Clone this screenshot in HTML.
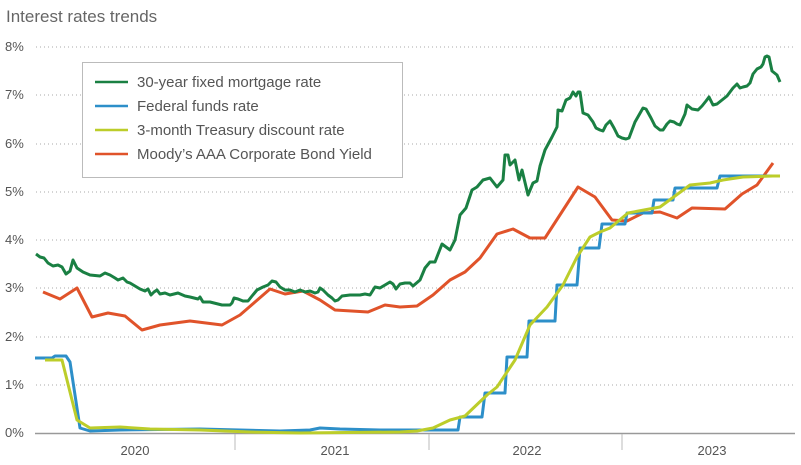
<!DOCTYPE html>
<html><head><meta charset="utf-8"><style>
body{margin:0;background:#fff;}
svg{display:block;font-family:"Liberation Sans",sans-serif;}
</style></head><body>
<svg width="801" height="465" viewBox="0 0 801 465">
<text x="6" y="22" font-size="17" fill="#666">Interest rates trends</text>
<g font-size="13" fill="#555">
<text x="5" y="51">8%</text><text x="5" y="99">7%</text><text x="5" y="148">6%</text><text x="5" y="196">5%</text>
<text x="5" y="244">4%</text><text x="5" y="292">3%</text><text x="5" y="341">2%</text><text x="5" y="389">1%</text><text x="5" y="437">0%</text>
</g>
<g stroke="#aaa" stroke-width="1" stroke-dasharray="1,3">
<line x1="36" x2="795" y1="47" y2="47"/><line x1="36" x2="795" y1="95" y2="95"/><line x1="36" x2="795" y1="144" y2="144"/>
<line x1="36" x2="795" y1="192" y2="192"/><line x1="36" x2="795" y1="240" y2="240"/><line x1="36" x2="795" y1="288" y2="288"/>
<line x1="36" x2="795" y1="337" y2="337"/><line x1="36" x2="795" y1="385" y2="385"/>
</g>
<line x1="35" x2="795" y1="433.5" y2="433.5" stroke="#999" stroke-width="1.5"/>
<g stroke="#bbb"><line x1="235" x2="235" y1="434" y2="450"/><line x1="429" x2="429" y1="434" y2="450"/><line x1="622" x2="622" y1="434" y2="450"/></g>
<g font-size="13" fill="#555" text-anchor="middle">
<text x="135" y="455">2020</text><text x="335" y="455">2021</text><text x="527" y="455">2022</text><text x="712" y="455">2023</text>
</g>
<g fill="none" stroke-width="3" stroke-linejoin="round">
<polyline stroke="#e0532a" points="43,292 60,299 77,288 92,317 108,313 125,316 142,330 160,325 190,321 222,325 240,315 255,302 270,289 285,294 303,291 320,300 335,310 368,312 385,305 400,307 417,306 433,295 450,280 465,272 480,258 497,234 513,229 530,238 545,238 578,187 595,197 612,220 627,221 643,213 660,212 677,218 692,208 725,209 742,194 757,185 773,163"/>
<polyline stroke="#2d8fc9" points="35,358 52,358 55,356 66,356 70,362 75,395 80,428 90,431 120,430 200,429 280,431 310,430 320,428 340,429 380,430 420,430 458,430 460,417 482,417 485,393 505,393 507,357 527,357 529,321 555,321 557,285 577,285 580,248 599,248 602,224 625,224 627,213 652,213 654,200 673,200 675,188 717,188 720,176 780,176"/>
<polyline stroke="#bccd2a" points="45,360 62,360 77,420 90,428 120,427 150,429 200,430 250,432 300,433 400,432 417,431 433,428 450,420 465,416 487,395 497,387 515,360 530,325 547,307 563,285 577,257 590,237 600,232 610,228 628,213 660,207 690,185 710,183 723,180 743,177 773,176 780,176"/>
<polyline stroke="#1a8043" points="36,254 40,257 44,258 48,263 53,266 58,265 62,267 66,274 70,271 73,260 77,268 83,272 90,275 100,276 105,273 110,275 115,278 118,280 123,278 127,282 130,283 140,289 145,291 148,289 151,295 154,292 157,290 160,294 165,293 170,295 178,293 185,296 190,297 198,299 200,297 203,302 210,302 218,304 222,305 230,305 232,303 234,298 238,299 243,301 248,301 252,296 257,290 263,287 268,285 272,281 276,282 280,287 285,290 290,290 295,292 300,290 305,292 310,291 315,293 318,292 320,288 323,290 328,295 332,298 335,301 338,300 342,296 350,295 360,295 365,294 370,295 375,287 380,288 385,285 390,282 393,284 396,289 400,284 405,283 410,283 413,286 420,280 425,268 430,262 435,262 442,244 450,250 455,240 460,215 466,208 472,190 477,187 483,180 490,178 497,187 503,180 505,155 508,155 510,165 515,160 519,180 522,170 528,195 533,183 537,181 540,166 545,150 552,137 557,127 558,110 562,111 566,100 570,98 573,92 576,96 578,92 580,92 583,113 588,115 593,122 596,128 600,130 603,131 606,125 610,121 614,128 618,136 622,138 626,139 629,138 635,122 643,108 646,109 651,118 655,126 660,130 663,130 667,124 670,121 674,122 677,124 680,125 685,114 687,105 692,109 698,110 702,106 706,101 709,97 713,105 717,104 722,100 727,96 733,88 737,84 740,88 743,87 747,86 750,83 753,74 757,69 761,67 763,64 765,57 767,56 769,57 772,71 777,75 780,82"/>
</g>
<rect x="82.5" y="62.5" width="320" height="115" fill="#fff" stroke="#bbb"/>
<g stroke-width="2.5">
<line x1="95" x2="128" y1="82" y2="82" stroke="#1a8043"/>
<line x1="95" x2="128" y1="106" y2="106" stroke="#2d8fc9"/>
<line x1="95" x2="128" y1="130" y2="130" stroke="#bccd2a"/>
<line x1="95" x2="128" y1="154" y2="154" stroke="#e0532a"/>
</g>
<g font-size="15" fill="#555">
<text x="137" y="87">30-year fixed mortgage rate</text>
<text x="137" y="111">Federal funds rate</text>
<text x="137" y="135">3-month Treasury discount rate</text>
<text x="137" y="159">Moody’s AAA Corporate Bond Yield</text>
</g>
</svg>
</body></html>
